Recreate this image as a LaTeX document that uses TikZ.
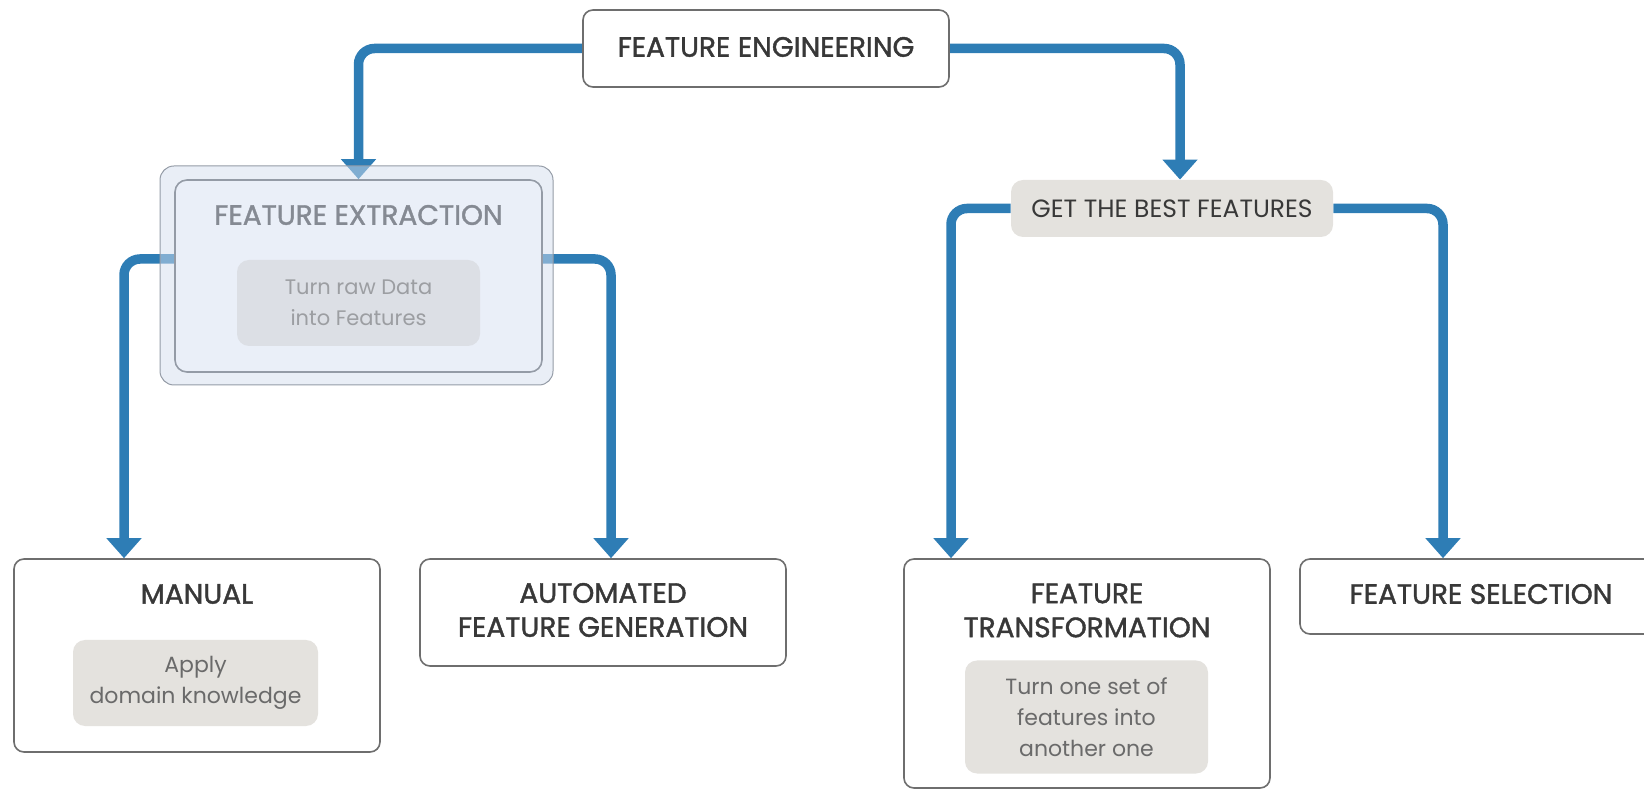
\documentclass[tikz,border=0pt]{standalone}
\usepackage{fontspec}
\setmainfont{Poppins}
\newfontfamily\headfont{Poppins}[FakeBold=1.4]
\usetikzlibrary{
    arrows.meta,
    positioning,
    calc,
    backgrounds
}
\definecolor{flowblue}{HTML}{2E7DB5}
\definecolor{boxborder}{HTML}{6E6E6E}
\definecolor{headtext}{HTML}{383838}
\definecolor{notefill}{HTML}{E4E2DE}
\definecolor{notetext}{HTML}{6A6A6A}
\definecolor{panelfill}{HTML}{D3DEEE}
\definecolor{panelinner}{HTML}{EAEFF8}
\definecolor{panelborder}{HTML}{949BA6}
\definecolor{paneltext}{HTML}{858A93}
\definecolor{panelnote}{HTML}{DCDFE5}
\definecolor{panelnotetext}{HTML}{9C9EA2}
\tikzset{
    % Boxes
    stage box/.style={draw=boxborder,line width=0.8pt,rounded corners=5pt,fill=white,inner sep=0pt},
    note box/.style={fill=notefill,rounded corners=6pt,inner sep=0pt,text=notetext,align=center,
        font=\fontsize{11}{15.5}\selectfont},
    heading/.style={text=headtext,align=center,font=\headfont\fontsize{14}{17}\selectfont},
    %
    % Extraction panel
    panel frame/.style={draw=panelborder,line width=0.5pt,rounded corners=7pt,fill=panelfill,fill opacity=0.5,inner sep=0pt},
    panel box/.style={draw=panelborder,line width=0.8pt,rounded corners=6pt,fill=panelinner,inner sep=0pt},
    %
    % Connectors
    flow tip/.tip={Triangle[width=17pt,length=10pt]},
    flow/.style={draw=flowblue,line width=4.75pt,rounded corners=8pt,-{flow tip}},
}

\begin{document}
\begin{tikzpicture}[x=0.5pt,y=-0.5pt]
    \useasboundingbox (0,0) rectangle (1644,790);
    % top
    \node[stage box,minimum width=183pt,minimum height=38.5pt] (Engineering) at (766,48.5) {};
    \node[heading] (Engineering title) at (766,47) {FEATURE ENGINEERING};

    % left branch
    \node[panel frame,minimum width=196.5pt,minimum height=109.5pt] (Extraction frame) at (356.5,275.5) {};
    \node[panel box,minimum width=183.5pt,minimum height=96pt] (Extraction) at (358.5,276) {};
    \node[heading,text=paneltext] (Extraction title) at (358.5,215) {FEATURE EXTRACTION};
    \node[note box,fill=panelnote,text=panelnotetext,font=\fontsize{10.5}{15.5}\selectfont,minimum width=121.5pt,minimum height=43pt] (Extraction note) at (358.5,303) {Turn raw Data\\into Features};

    \node[stage box,minimum width=183pt,minimum height=96.5pt] (Manual) at (197,655.5) {};
    \node[heading] (Manual title) at (197,594) {MANUAL};
    \node[note box,minimum width=122.5pt,minimum height=43pt] (Manual note) at (195.5,683) {Apply\\domain knowledge};

    \node[stage box,minimum width=183pt,minimum height=53.5pt] (Automated) at (603,612.5) {};
    \node[heading] (Automated title) at (603,610) {AUTOMATED\\FEATURE GENERATION};

    % right branch
    \node[note box,text=headtext,font=\fontsize{12.5}{14}\selectfont,minimum width=161pt,minimum height=28.5pt] (Best) at (1172,208.5) {GET THE BEST FEATURES};

    \node[stage box,minimum width=183pt,minimum height=114.5pt] (Transformation) at (1087,673.5) {};
    \node[heading] (Transformation title) at (1087,610.5) {FEATURE\\TRANSFORMATION};
    \node[note box,minimum width=121.5pt,minimum height=56.5pt] (Transformation note) at (1086.5,717) {Turn one set of\\features into\\another one};

    \node[stage box,minimum width=183pt,minimum height=37.5pt] (Selection) at (1483,596.5) {};
    \node[heading] (Selection title) at (1481,594) {FEATURE SELECTION};

    % connectors run underneath the boxes
    \begin{scope}[on background layer]
        \draw[flow] (Engineering.west) -| (Extraction.north);
        \draw[flow] (Engineering.east) -| ($(Best.north)+(8,0)$);
        \draw[flow] ($(Extraction.west)+(0,-17)$) -| ($(Manual.north)+(-73,0)$);
        \draw[flow] ($(Extraction.east)+(0,-17)$) -| ($(Automated.north)+(8,0)$);
        \draw[flow] (Best.west) -| ($(Transformation.north)+(-136,0)$);
        \draw[flow] (Best.east) -| ($(Selection.north)+(-40,0)$);
    \end{scope}
\end{tikzpicture}
\end{document}
